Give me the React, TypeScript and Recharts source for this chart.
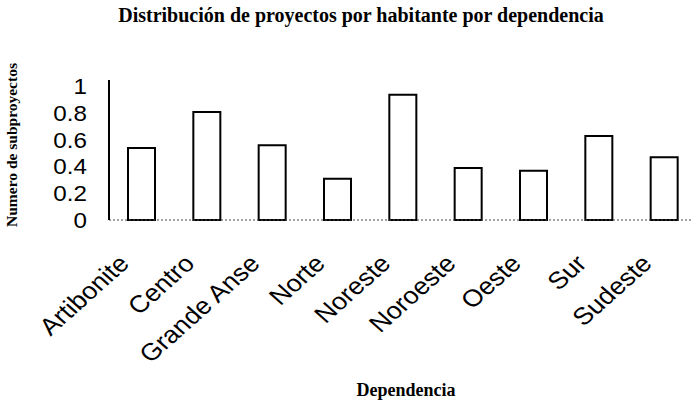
import { BarChart, Bar, XAxis, YAxis } from "recharts"

// dependencias y proyectos por habitante
const dependencias = ["Artibonite","Centro","Grande Anse","Norte","Noreste","Noroeste","Oeste","Sur","Sudeste"]
const proyectos = [0.54, 0.81, 0.56, 0.31, 0.94, 0.39, 0.37, 0.63, 0.47]
const yTicks = [0, 0.2, 0.4, 0.6, 0.8, 1]

const data = dependencias.map((name, i) => ({ name, value: proyectos[i] }))

const SANS = "'Liberation Sans', Arial, sans-serif"
const SERIF = "'Liberation Serif', 'Times New Roman', serif"

// el escaneo original esta un poco estirado en horizontal
const XTick = (props: any) => {
	const { x, y, payload } = props
	const ax = x - 11
	const ay = y + 45
	return (
		<text transform={`translate(${ax},${ay}) scale(1.12,1) rotate(-45)`} textAnchor="end"
			fontFamily={SANS} fontSize={24} fill="#000">
			{payload.value}
		</text>
	)
}

const YTick = (props: any) => {
	const { x, y, payload } = props
	return (
		<text transform={`translate(${x},${y}) scale(1.1,1)`} textAnchor="end" dy="0.355em"
			fontFamily={SANS} fontSize={22} fill="#000">
			{String(payload.value)}
		</text>
	)
}

export default function App() {
	return (
		<div style={{position:"absolute", left:0, top:0, width:691, height:400, overflow:"hidden", background:"#fff"}}>
			<div style={{position:"absolute", left:361, top:4, transform:"translateX(-50%)", fontFamily:SERIF, fontWeight:700, fontSize:20, color:"#000", whiteSpace:"nowrap"}}>
				Distribución de proyectos por habitante por dependencia
			</div>
			<div style={{position:"absolute", left:406, top:380, transform:"translateX(-50%)", fontFamily:SERIF, fontWeight:700, fontSize:18, color:"#000", whiteSpace:"nowrap"}}>
				Dependencia
			</div>
			<div style={{position:"absolute", left:12, top:145, transform:"translate(-50%,-50%) rotate(-90deg)", fontFamily:SERIF, fontWeight:700, fontSize:15.5, color:"#000", whiteSpace:"nowrap"}}>
				Numero de subproyectos
			</div>
			<BarChart width={700} height={400} data={data} margin={{top:80, right:3, left:9, bottom:120}}>
				<XAxis dataKey="name" height={60} interval={0} tickLine={false} tickSize={0} tickMargin={0}
					axisLine={{stroke:"#444", strokeWidth:1, strokeDasharray:"2 2"}} tick={<XTick />} />
				<YAxis width={100} domain={[0, 1.05]} ticks={yTicks} interval={0} tickLine={false} tickSize={0} tickMargin={22}
					axisLine={{stroke:"#000", strokeWidth:2}} tick={<YTick />} />
				<Bar dataKey="value" fill="#fff" stroke="#000" strokeWidth={2} barSize={27} isAnimationActive={false} />
			</BarChart>
		</div>
	)
}
